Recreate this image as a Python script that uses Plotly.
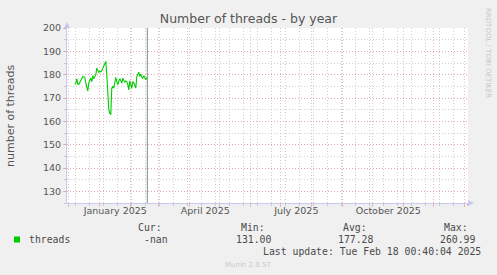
import pandas as pd
import plotly.graph_objects as go

# ---- data ----
start_day = "2024-12-07 12:00"
threads = [175.8, 176.4, 178.3, 176.0, 175.8, 176.8, 177.5, 178.5, 179.2, 179.0,
           178.9, 176.5, 174.5, 173.0, 176.4, 177.8, 178.5, 177.0, 179.6, 178.2,
           179.0, 180.0, 182.8, 181.4, 181.0, 181.4, 181.2, 181.7, 182.8, 183.5,
           184.2, 185.7, 180.0, 172.0, 165.0, 163.5, 162.8, 174.2, 175.0, 174.2,
           177.0, 178.8, 177.0, 175.7, 177.2, 178.2, 177.5, 176.4, 178.5, 177.5,
           176.8, 177.3, 177.0, 175.7, 173.5, 177.4, 176.0, 174.2, 177.0, 176.5,
           175.5, 174.2, 179.2, 180.5, 181.1, 179.2, 180.2, 179.0, 178.5, 179.6,
           178.8, 177.8, 178.8]
dates = pd.date_range(start_day, periods=len(threads), freq="D")

x_range = ["2024-11-29 17:00", "2026-01-04 17:00"]
y_range = [125, 200]
y_ticks = [130, 140, 150, 160, 170, 180, 190, 200]
month_label_pos = ["2025-01-17", "2025-04-17", "2025-07-17", "2025-10-17"]
month_labels = ["January 2025", "April 2025", "July 2025", "October 2025"]
now_time = "2025-02-18 00:40:04"

legend_name = "threads"
stat_labels = ["Cur:", "Min:", "Avg:", "Max:"]
stat_values = ["-nan", "131.00", "177.28", "260.99"]
last_update = "Last update: Tue Feb 18 00:40:04 2025"

# ---- layout geometry ----
W, H = 497, 275
L, R, T, B = 67, 29, 28, 72
PW, PH = W - L - R, H - T - B

def px(x):
    return (x - L) / PW

def py(y):
    return (H - B - y) / PH

GREEN = "#00CC00"
TXT = "#555555"
MAJ = "rgba(235,140,140,0.6)"
MIN = "rgba(160,160,160,0.5)"
AXC = "#C8C8F0"

fig = go.Figure()
fig.add_trace(go.Scatter(x=dates, y=threads, mode="lines",
                         line=dict(color=GREEN, width=1.1), showlegend=False,
                         hoverinfo="skip"))
fig.add_trace(go.Scatter(x=[month_label_pos[0]], y=[y_range[0]], xaxis="x2",
                         mode="markers", marker=dict(opacity=0), showlegend=False,
                         hoverinfo="skip"))

fig.add_vline(x=pd.Timestamp(now_time).value / 1e6, line=dict(color="#888888", width=1))

fig.update_layout(
    width=W, height=H,
    margin=dict(l=L, r=R, t=T, b=B),
    paper_bgcolor="#F0F0F0", plot_bgcolor="#FFFFFF",
    font=dict(family="DejaVu Sans", color=TXT, size=9),
    title=dict(text="Number of threads - by year", x=0.5, xref="container",
               y=1 - 18.5 / H, yref="container", yanchor="middle", xanchor="center",
               font=dict(size=12.5, color=TXT, family="DejaVu Sans")),
    xaxis=dict(type="date", range=x_range, tick0="2024-12-01", dtick="M1",
               showticklabels=False, showgrid=True, gridcolor=MAJ, griddash="1px,2px",
               gridwidth=1, ticks="outside", ticklen=3, tickcolor=MAJ,
               showline=True, linecolor=AXC, linewidth=1, zeroline=False,
               minor=dict(dtick=14 * 86400000, tick0="2024-12-08", showgrid=True,
                          gridcolor=MIN, griddash="1px,2px", gridwidth=1,
                          ticks="outside", ticklen=2, tickcolor=MIN)),
    xaxis2=dict(type="date", range=x_range, overlaying="x", anchor="y", side="bottom",
                tickmode="array", tickvals=month_label_pos, ticktext=month_labels,
                showgrid=False, ticks="", showline=False, zeroline=False,
                tickfont=dict(size=9.5, color=TXT)),
    yaxis=dict(range=y_range, tickmode="array", tickvals=y_ticks,
               showgrid=True, gridcolor=MAJ, griddash="1px,2px", gridwidth=1,
               ticks="outside", ticklen=3, tickcolor=MAJ, zeroline=False,
               showline=True, linecolor=AXC, linewidth=1,
               tickfont=dict(size=9.5, color=TXT),
               minor=dict(dtick=5, tick0=0, showgrid=True, gridcolor=MIN,
                          griddash="1px,2px", gridwidth=1, ticks="outside",
                          ticklen=2, tickcolor=MIN)),
    showlegend=False,
)

ann = []
# y-axis title
ann.append(dict(text="number of threads", xref="paper", yref="paper",
                x=px(10), y=py(116), textangle=-90, showarrow=False,
                font=dict(size=11, color=TXT), xanchor="center", yanchor="middle"))
# rrdtool watermark
ann.append(dict(text="RRDTOOL / TOBI OETIKER", xref="paper", yref="paper",
                x=px(488), y=py(53), textangle=90, showarrow=False,
                font=dict(size=7, color="#C8C8C8"), xanchor="center", yanchor="middle"))
mono = "DejaVu Sans Mono"
row_hdr, row_val, row_upd = 227.7, 239.3, 251.0
ann.append(dict(text=legend_name, xref="paper", yref="paper", x=px(26.5), y=py(row_val),
                showarrow=False, xanchor="left", yanchor="middle",
                font=dict(family=mono, size=9.8, color="#4a4a4a")))
hdr_right = [163.5, 266.5, 368.5, 470.5]
val_right = [169.5, 272.5, 375.0, 477.0]
for lab, val, hr, vr in zip(stat_labels, stat_values, hdr_right, val_right):
    ann.append(dict(text=lab, xref="paper", yref="paper", x=px(hr), y=py(row_hdr),
                    showarrow=False, xanchor="right", yanchor="middle",
                    font=dict(family=mono, size=9.8, color="#4a4a4a")))
    ann.append(dict(text=val, xref="paper", yref="paper", x=px(vr), y=py(row_val),
                    showarrow=False, xanchor="right", yanchor="middle",
                    font=dict(family=mono, size=9.8, color="#4a4a4a")))
ann.append(dict(text=last_update, xref="paper", yref="paper", x=px(483), y=py(row_upd),
                showarrow=False, xanchor="right", yanchor="middle",
                font=dict(family=mono, size=9.8, color="#4a4a4a")))
ann.append(dict(text="Munin 2.0.57", xref="paper", yref="paper", x=px(248), y=py(264.5),
                showarrow=False, xanchor="center", yanchor="middle",
                font=dict(size=7, color="#C8C8C8")))
fig.update_layout(annotations=ann)

shapes = [
    # legend swatch
    dict(type="rect", xref="paper", yref="paper", x0=px(14), x1=px(20),
         y0=py(242.5), y1=py(236.5), fillcolor=GREEN, line=dict(width=0)),
    # axis arrows
    dict(type="path", xref="paper", yref="paper",
         path=f"M {px(64)} {py(28)} L {px(70)} {py(28)} L {px(67)} {py(22)} Z",
         fillcolor=AXC, line=dict(width=0)),
    dict(type="path", xref="paper", yref="paper",
         path=f"M {px(468)} {py(200)} L {px(468)} {py(206)} L {px(474)} {py(203)} Z",
         fillcolor=AXC, line=dict(width=0)),
]
for s in shapes:
    fig.add_shape(**s)

fig.write_html("out.html")
